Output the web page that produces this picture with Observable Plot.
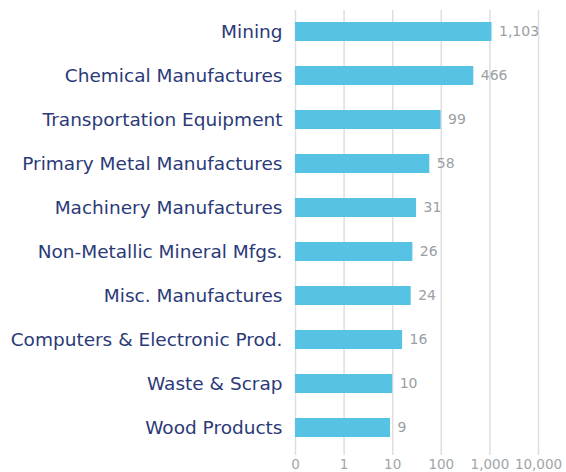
<!DOCTYPE html>
<html><head><meta charset="utf-8">
<script src="https://cdn.jsdelivr.net/npm/d3@7"></script>
<script src="https://cdn.jsdelivr.net/npm/@observablehq/plot@0.6"></script>
<style>body{margin:0;background:#fff;} #chart svg{display:block;}</style>
</head><body><div id="chart"></div>
<script>
const categories = ["Mining","Chemical Manufactures","Transportation Equipment","Primary Metal Manufactures","Machinery Manufactures","Non-Metallic Mineral Mfgs.","Misc. Manufactures","Computers & Electronic Prod.","Waste & Scrap","Wood Products"];
const values = [1103,466,99,58,31,26,24,16,10,9];
const tickValues = [0.1,1,10,100,1000,10000];
const tickLabels = ["0","1","10","100","1,000","10,000"];
const data = categories.map((c,i)=>({category:c, value:values[i]}));
const fmt = d3.format(",");
const chart = Plot.plot({
  width: 566, height: 472,
  marginLeft: 295, marginRight: 28, marginTop: 10, marginBottom: 17,
  style: {fontFamily: "'DejaVu Sans', sans-serif", background: "#fff"},
  x: {type: "log", domain: [0.1, 10000], ticks: tickValues, label: null},
  y: {domain: categories, range: [9, 450], paddingInner: 0.57, paddingOuter: 0.285, label: null},
  marks: [
    Plot.ruleX(tickValues, {stroke: "#dedede", strokeWidth: 1.5}),
    Plot.barX(data, {y: "category", x1: 0.1, x2: "value", fill: "#56c2e4"}),
    Plot.text(data, {y: "category", x: "value", text: d => fmt(d.value), dx: 7, textAnchor: "start", fill: "#9aa0a4", fontSize: 14}),
    Plot.axisY({tickSize: 0, tickPadding: 13, fontSize: 18.5, color: "#2b3a78", label: null}),
    Plot.axisX({ticks: tickValues, tickFormat: (d,i) => tickLabels[tickValues.indexOf(d)], tickSize: 0, tickPadding: 4, fontSize: 13.5, color: "#a0a5a9", label: null})
  ]
});
document.getElementById("chart").appendChild(chart);
</script></body></html>
